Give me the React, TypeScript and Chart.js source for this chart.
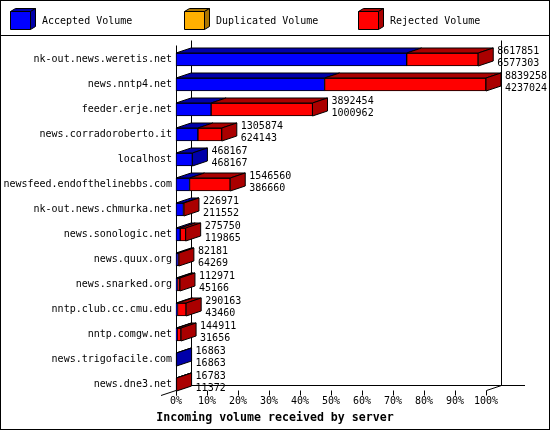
import React, { useEffect, useRef } from "react";
import { Chart, registerables } from "chart.js";

Chart.register(...registerables);

// ---- data ----
const servers = [
  "nk-out.news.weretis.net",
  "news.nntp4.net",
  "feeder.erje.net",
  "news.corradoroberto.it",
  "localhost",
  "newsfeed.endofthelinebbs.com",
  "nk-out.news.chmurka.net",
  "news.sonologic.net",
  "news.quux.org",
  "news.snarked.org",
  "nntp.club.cc.cmu.edu",
  "nntp.comgw.net",
  "news.trigofacile.com",
  "news.dne3.net",
];
const totalVolume = [
  8617851, 8839258, 3892454, 1305874, 468167, 1546560, 226971, 275750, 82181,
  112971, 290163, 144911, 16863, 16783,
];
const acceptedVolume = [
  6577303, 4237024, 1000962, 624143, 468167, 386660, 211552, 119865, 64269,
  45166, 43460, 31656, 16863, 11372,
];
const duplicatedVolume = [0, 0, 0, 0, 0, 0, 0, 0, 0, 0, 0, 0, 0, 0];
const seriesLabels = ["Accepted Volume", "Duplicated Volume", "Rejected Volume"];
const seriesColors = ["#0000FF", "#FFB000", "#FF0000"];
const seriesDarkColors = ["#0000AA", "#AA7500", "#AA0000"];
const tickPercents = [0, 10, 20, 30, 40, 50, 60, 70, 80, 90, 100];
const axisTitle = "Incoming volume received by server";

const FONT = "'DejaVu Sans Mono', 'Liberation Mono', monospace";
const DX = 15;
const DY = -5;

const snap = (v: number) => Math.round(v - 0.5) + 0.5;

function poly(ctx: CanvasRenderingContext2D, pts: number[][], fill: string) {
  ctx.beginPath();
  ctx.moveTo(pts[0][0], pts[0][1]);
  for (let i = 1; i < pts.length; i++) ctx.lineTo(pts[i][0], pts[i][1]);
  ctx.closePath();
  ctx.fillStyle = fill;
  ctx.fill();
  ctx.strokeStyle = "#000";
  ctx.lineWidth = 1;
  ctx.stroke();
}

const depthPlugin = {
  id: "depth3d",
  beforeDatasetsDraw(chart: any) {
    const { ctx, scales } = chart;
    const x = scales.x;
    const y = scales.y;
    const x0 = x.getPixelForValue(0);
    const x100 = x.getPixelForValue(100);
    const yFirst = y.getPixelForValue(0);
    const yLast = y.getPixelForValue(servers.length - 1);
    const floorFront = yLast + 5.5;
    const floorBack = floorFront + DY;
    const top = yFirst - 14;
    ctx.save();
    ctx.strokeStyle = "#000";
    ctx.lineWidth = 1;
    const line = (ax: number, ay: number, bx: number, by: number) => {
      ctx.beginPath();
      ctx.moveTo(ax, ay);
      ctx.lineTo(bx, by);
      ctx.stroke();
    };
    // back wall verticals
    line(snap(x0 + DX), top - 5, snap(x0 + DX), snap(floorBack));
    line(snap(x100 + DX), top - 5, snap(x100 + DX), snap(floorBack));
    // back floor line
    line(snap(x0 + DX), snap(floorBack), x100 + DX + 24, snap(floorBack));
    // floor diagonals
    line(snap(x100), snap(floorFront), snap(x100 + DX), snap(floorBack));
    line(x0 - DX, floorFront - DY + 0.5, x0 + DX, floorBack + 0.5);
    // front vertical
    line(snap(x0), top, snap(x0), snap(floorFront) + 5);
    // tick marks
    for (const t of tickPercents) {
      const px = snap(x.getPixelForValue(t));
      line(px, snap(floorFront), px, snap(floorFront) + 5);
    }
    ctx.restore();
  },
  afterDatasetsDraw(chart: any) {
    const { ctx } = chart;
    const metas = chart.data.datasets.map((_: any, i: number) => chart.getDatasetMeta(i));
    ctx.save();
    for (let i = 0; i < servers.length; i++) {
      let lastIdx = -1;
      let right = 0;
      let top = 0;
      let bottom = 0;
      let cy = 0;
      metas.forEach((m: any, d: number) => {
        const el = m.data[i];
        const p = el.getProps(["x", "base", "y", "height"], true);
        const l = Math.min(p.x, p.base);
        const r = Math.max(p.x, p.base);
        const t = p.y - p.height / 2;
        const b = p.y + p.height / 2;
        cy = p.y;
        if (r - l > 0.01) {
          poly(ctx, [[l, t], [r, t], [r + DX, t + DY], [l + DX, t + DY]], seriesDarkColors[d]);
          lastIdx = d;
          right = r;
          top = t;
          bottom = b;
        }
      });
      if (lastIdx >= 0) {
        poly(
          ctx,
          [[right, top], [right + DX, top + DY], [right + DX, bottom + DY], [right, bottom]],
          seriesDarkColors[lastIdx]
        );
      }
      ctx.fillStyle = "#000";
      ctx.font = `10px ${FONT}`;
      ctx.textAlign = "left";
      ctx.textBaseline = "alphabetic";
      ctx.fillText(String(totalVolume[i]), right + DX + 4, cy - 5.5);
      ctx.fillText(String(acceptedVolume[i]), right + DX + 4, cy + 6);
    }
    ctx.restore();
  },
  afterDraw(chart: any) {
    const { ctx, width, height } = chart;
    ctx.save();
    ctx.strokeStyle = "#000";
    ctx.lineWidth = 1;
    ctx.strokeRect(0.5, 0.5, width - 1, height - 1);
    ctx.beginPath();
    ctx.moveTo(0, 35.5);
    ctx.lineTo(width, 35.5);
    ctx.stroke();
    // legend
    seriesLabels.forEach((label, k) => {
      const bx = 10.5 + k * 174;
      const by = 11.5;
      const w = 20;
      const h = 18;
      poly(ctx, [[bx, by], [bx + w, by], [bx + w + 5, by - 3], [bx + 5, by - 3]], seriesDarkColors[k]);
      poly(ctx, [[bx + w, by], [bx + w + 5, by - 3], [bx + w + 5, by + h - 3], [bx + w, by + h]], seriesDarkColors[k]);
      poly(ctx, [[bx, by], [bx + w, by], [bx + w, by + h], [bx, by + h]], seriesColors[k]);
      ctx.fillStyle = "#000";
      ctx.font = `10px ${FONT}`;
      ctx.textAlign = "left";
      ctx.textBaseline = "alphabetic";
      ctx.fillText(label, bx + 31.5, 24);
    });
    // axis title centred on the image
    ctx.fillStyle = "#000";
    ctx.font = `bold 11.6px ${FONT}`;
    ctx.textAlign = "center";
    ctx.textBaseline = "alphabetic";
    ctx.fillText(axisTitle, width / 2, 421);
    ctx.restore();
  },
};

export default function App() {
  const ref = useRef<HTMLCanvasElement | null>(null);
  useEffect(() => {
    if (!ref.current) return;
    const maxTotal = Math.max(...totalVolume);
    const pct = (v: number) => (v / maxTotal) * 100;
    const rejectedVolume = totalVolume.map((t, i) => t - acceptedVolume[i] - duplicatedVolume[i]);
    const seriesValues = [acceptedVolume, duplicatedVolume, rejectedVolume];
    const chart = new Chart(ref.current, {
      type: "bar",
      data: {
        labels: servers,
        datasets: seriesLabels.map((label, k) => ({
          label,
          data: seriesValues[k].map(pct),
          backgroundColor: seriesColors[k],
          borderColor: "#000",
          borderWidth: 1,
          borderSkipped: false,
          barThickness: 13,
          clip: false,
        })) as any,
      },
      options: {
        indexAxis: "y",
        animation: false,
        responsive: false,
        devicePixelRatio: 1,
        events: [],
        layout: { padding: { top: 59.5, right: 64, bottom: 21.5, left: 0 } },
        plugins: {
          legend: { display: false },
          tooltip: { enabled: false },
          title: { display: false },
        },
        scales: {
          x: {
            type: "linear",
            stacked: true,
            min: 0,
            max: 100,
            grid: { display: false, drawTicks: false },
            border: { display: false },
            ticks: {
              padding: 11,
              color: "#000",
              font: { family: FONT, size: 10 },
              maxRotation: 0,
              autoSkip: false,
              callback: (v: any) => `${v}%`,
            },
            afterBuildTicks: (s: any) => {
              s.ticks = tickPercents.map((v) => ({ value: v }));
            },
            afterFit: (s: any) => {
              s.height = 24;
            },
          },
          y: {
            type: "category",
            stacked: true,
            offset: false,
            grid: { display: false, drawTicks: false },
            border: { display: false },
            ticks: {
              padding: 4,
              color: "#000",
              font: { family: FONT, size: 10 },
              autoSkip: false,
            },
            afterFit: (s: any) => {
              s.width = 176;
            },
          },
        } as any,
      },
      plugins: [depthPlugin],
    });
    return () => chart.destroy();
  }, []);
  return (
    <div style={{ position: "absolute", left: 0, top: 0, width: 550, height: 430, background: "#fff" }}>
      <canvas ref={ref} width={550} height={430} style={{ display: "block", width: 550, height: 430 }} />
    </div>
  );
}
